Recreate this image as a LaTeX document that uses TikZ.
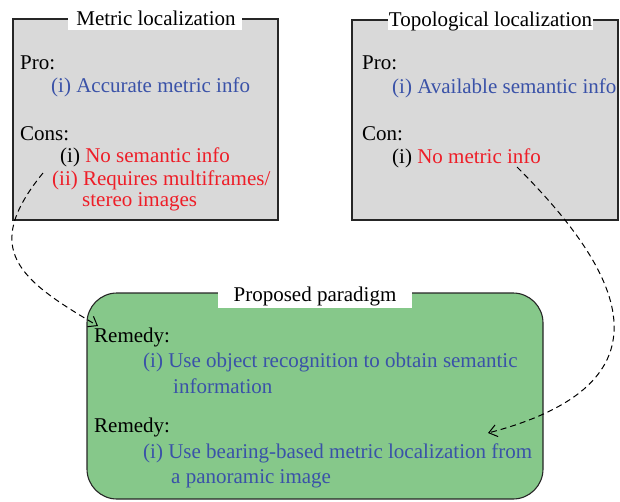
\documentclass[tikz,border=0pt]{standalone}
\usepackage{fontspec}
\setmainfont{Liberation Serif}
\usetikzlibrary{arrows.meta}
\definecolor{boxgray}{RGB}{217,217,217}
\definecolor{boxgreen}{RGB}{134,200,138}
\definecolor{problue}{RGB}{58,82,168}
\definecolor{conred}{RGB}{238,30,40}
\tikzset{
  panel/.style={draw=black!85, line width=1.1pt, fill=boxgray},
  greenpanel/.style={draw=black!85, line width=1.1pt, fill=boxgreen, rounded corners=30pt},
  titlebg/.style={fill=white, inner sep=0pt},
  txt/.style={anchor=base west, inner sep=0pt, font=\fontsize{21}{25}\selectfont},
  ttl/.style={anchor=base, inner sep=0pt, font=\fontsize{21}{25}\selectfont},
  link/.style={dash pattern=on 6pt off 4pt, line width=1pt, -{Straight Barb[length=8pt,width=12pt]}}
}
\begin{document}
\begin{tikzpicture}[x=1pt,y=-1pt]
\useasboundingbox (0,0) rectangle (620,501);
% panels
\path[panel] (13,19) rectangle (278,220);
\path[panel] (352,20) rectangle (618,220);
\path[greenpanel] (87,293) rectangle (543,499);
% title backgrounds
\node[titlebg, minimum width=174pt, minimum height=30pt] (t1bg) at (155,15) {};
\node[titlebg, minimum width=205pt, minimum height=30pt] (t2bg) at (490.5,15) {};
\node[titlebg, minimum width=194pt, minimum height=23pt] (t3bg) at (315,296.5) {};
\node[ttl] (t1) at (156,25) {Metric localization};
\node[ttl] (t2) at (490.5,26) {Topological localization};
\node[ttl] (t3) at (315,301) {Proposed paradigm};
% left panel text
\node[txt] (lpro) at (20,69) {Pro:};
\node[txt, text=problue] (lp1) at (51,92) {(i) Accurate metric info};
\node[txt] (lcon) at (20,140) {Cons:};
\node[txt] (lc1) at (60,162) {(i) \textcolor{conred}{No semantic info}};
\node[txt, text=conred] (lc2) at (52,185) {(ii) Requires multiframes/};
\node[txt, text=conred] (lc3) at (82,206) {stereo images};
% right panel text
\node[txt] (rpro) at (362,69) {Pro:};
\node[txt, text=problue] (rp1) at (392,93) {(i) Available semantic info};
\node[txt] (rcon) at (362,140) {Con:};
\node[txt] (rc1) at (392,163) {(i) \textcolor{conred}{No metric info}};
% green panel text
\node[txt] (g1) at (94,342) {Remedy:};
\node[txt, text=problue] (g2) at (143,367) {(i) Use object recognition to obtain semantic};
\node[txt, text=problue] (g3) at (173,393) {information};
\node[txt] (g4) at (94,432) {Remedy:};
\node[txt, text=problue] (g5) at (143,458) {(i) Use bearing-based metric localization from};
\node[txt, text=problue] (g6) at (171,483) {a panoramic image};
% connectors
\coordinate (s1) at (43,173);
\coordinate (e1) at (98,326);
\coordinate (s2) at (517,167);
\coordinate (e2) at (488,433);
\draw[link] (s1) .. controls (-20,250) and (20,280) .. (e1);
\draw[link] (s2) .. controls (610,260) and (690,380) .. (e2);
\end{tikzpicture}
\end{document}
